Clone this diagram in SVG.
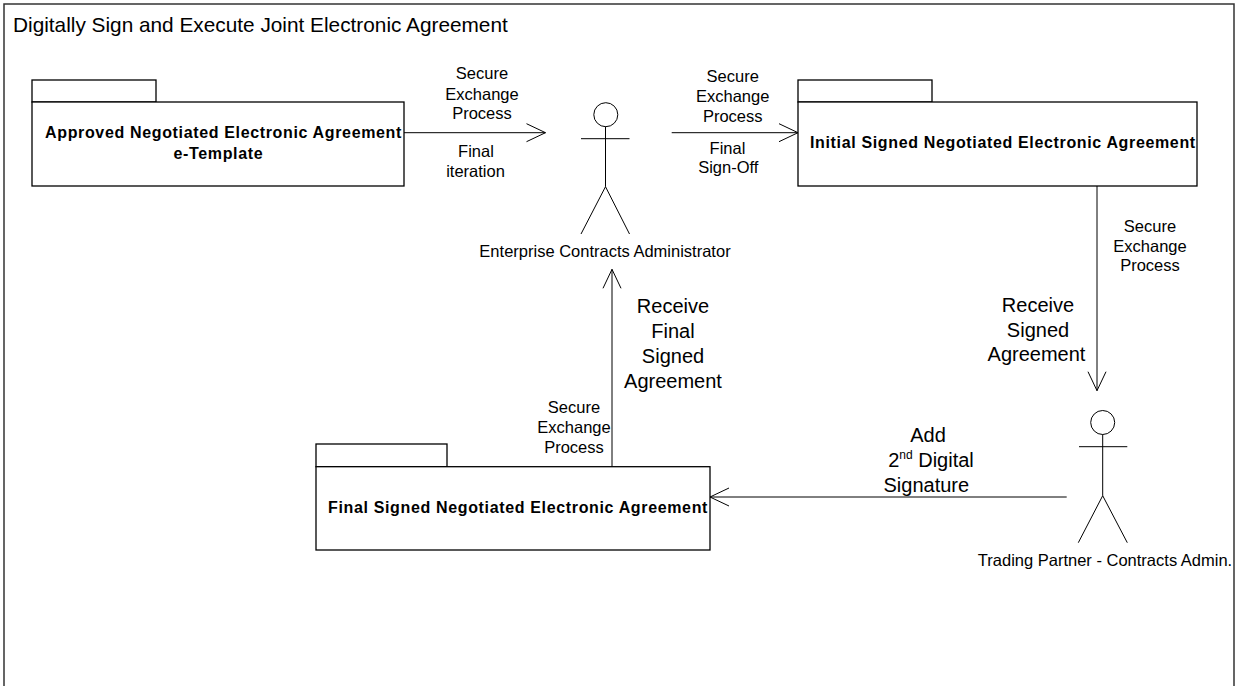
<svg xmlns="http://www.w3.org/2000/svg" width="1238" height="686" viewBox="0 0 1238 686">
<style>
  .frame { fill: none; stroke: #333333; stroke-width: 1.5; }
  .box { fill: #ffffff; stroke: #000000; stroke-width: 1.3; }
  .actor { fill: none; stroke: #000000; stroke-width: 1; }
  .conn { fill: none; stroke: #000000; stroke-width: 1; }
  .title { font-family: "Liberation Sans", Arial, sans-serif; font-size: 20.8px; fill: #000; }
  .pk { font-family: "Liberation Sans", Arial, sans-serif; font-size: 16px; font-weight: bold; letter-spacing: 0.65px; fill: #000; }
  .lbl { font-family: "Liberation Sans", Arial, sans-serif; font-size: 16.5px; fill: #000; text-anchor: middle; }
  .big { font-family: "Liberation Sans", Arial, sans-serif; font-size: 20px; fill: #000; text-anchor: middle; }
</style>
<defs>
  <marker id="open" markerUnits="userSpaceOnUse" markerWidth="22" markerHeight="22" viewBox="0 0 22 22" refX="20" refY="11" orient="auto">
    <path d="M1,2 L20,11 L1,20" fill="none" stroke="#000" stroke-width="1"/>
  </marker>
</defs>
<rect width="1238" height="686" fill="#ffffff"/>

<g id="frame">
  <path class="frame" d="M4,690 V4 H1234 V690"/>
  <text class="title" x="13" y="31.7">Digitally Sign and Execute Joint Electronic Agreement</text>
</g>

<g id="pkg-approved">
  <rect class="box" x="32" y="80" width="124" height="22"/>
  <rect class="box" x="32" y="102" width="372" height="84"/>
  <text class="pk" x="45" y="138.3">Approved Negotiated Electronic Agreement</text>
  <text class="pk" x="173.5" y="159.3">e-Template</text>
</g>

<g id="pkg-initial">
  <rect class="box" x="798" y="80" width="134" height="22"/>
  <rect class="box" x="798" y="102" width="399" height="84"/>
  <text class="pk" x="810" y="148.3">Initial Signed Negotiated Electronic Agreement</text>
</g>

<g id="pkg-final">
  <rect class="box" x="316" y="444" width="131" height="22.7"/>
  <rect class="box" x="316" y="466.7" width="394" height="83.3"/>
  <text class="pk" x="328" y="513.3">Final Signed Negotiated Electronic Agreement</text>
</g>

<g id="actor-enterprise">
  <circle class="actor" cx="605.8" cy="114.7" r="12"/>
  <line class="actor" x1="581" y1="138.7" x2="629.5" y2="138.7"/>
  <line class="actor" x1="605.5" y1="126.7" x2="605.5" y2="186.7"/>
  <polyline class="actor" points="581,234 605.5,186.7 629.5,234"/>
  <text class="lbl" x="605" y="256.7">Enterprise Contracts Administrator</text>
</g>

<g id="actor-partner">
  <circle class="actor" cx="1102.7" cy="422.5" r="12"/>
  <line class="actor" x1="1079" y1="446.7" x2="1127.3" y2="446.7"/>
  <line class="actor" x1="1102.7" y1="434.5" x2="1102.7" y2="495.7"/>
  <polyline class="actor" points="1078.3,542.7 1102.7,495.7 1127.3,542.7"/>
  <text class="lbl" x="1105" y="566">Trading Partner - Contracts Admin.</text>
</g>

<g id="connectors">
  <line class="conn" x1="404" y1="132.7" x2="545.5" y2="132.7" marker-end="url(#open)"/>
  <line class="conn" x1="671.7" y1="132.7" x2="798" y2="132.7" marker-end="url(#open)"/>
  <line class="conn" x1="1097" y1="186" x2="1097" y2="390.7" marker-end="url(#open)"/>
  <line class="conn" x1="1066.7" y1="497" x2="710" y2="497" marker-end="url(#open)"/>
  <line class="conn" x1="612" y1="466.7" x2="612" y2="269.3" marker-end="url(#open)"/>

  <g id="labels">
    <text class="lbl" x="482" y="79">Secure</text>
    <text class="lbl" x="482" y="99.5">Exchange</text>
    <text class="lbl" x="482" y="119">Process</text>
    <text class="lbl" x="476" y="157.3">Final</text>
    <text class="lbl" x="475.5" y="177.3">iteration</text>

    <text class="lbl" x="732.7" y="81.5">Secure</text>
    <text class="lbl" x="732.7" y="101.5">Exchange</text>
    <text class="lbl" x="732.7" y="121.5">Process</text>
    <text class="lbl" x="727.5" y="154.3">Final</text>
    <text class="lbl" x="728.3" y="173.3">Sign-Off</text>

    <text class="lbl" x="1150" y="232.3">Secure</text>
    <text class="lbl" x="1150" y="251.7">Exchange</text>
    <text class="lbl" x="1150" y="271">Process</text>

    <text class="big" x="1038" y="312.3">Receive</text>
    <text class="big" x="1038" y="336.7">Signed</text>
    <text class="big" x="1036.5" y="361">Agreement</text>

    <text class="big" x="673" y="313.3">Receive</text>
    <text class="big" x="673" y="338.3">Final</text>
    <text class="big" x="673" y="363.3">Signed</text>
    <text class="big" x="673" y="388.3">Agreement</text>

    <text class="lbl" x="574" y="412.7">Secure</text>
    <text class="lbl" x="574" y="432.7">Exchange</text>
    <text class="lbl" x="574" y="453.3">Process</text>

    <text class="big" x="928" y="441.7">Add</text>
    <text class="big" x="931" y="466.7">2<tspan font-size="12" dy="-8">nd</tspan><tspan dy="8"> Digital</tspan></text>
    <text class="big" x="926.3" y="491.7">Signature</text>
  </g>
</g>
</svg>
